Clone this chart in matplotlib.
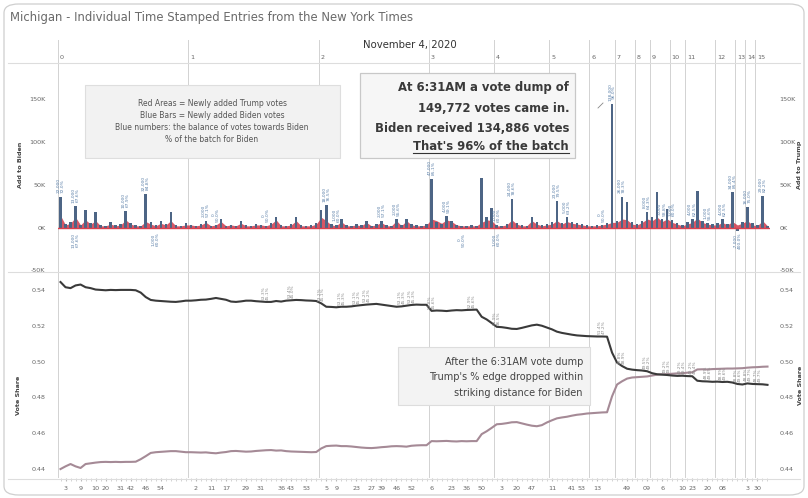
import numpy as np
import matplotlib
matplotlib.use("Agg")
import matplotlib.pyplot as plt
from matplotlib.patches import Rectangle, FancyBboxPatch
from matplotlib.lines import Line2D
import matplotlib.transforms as mtrans

plt.rcParams['font.family'] = ['DejaVu Sans']

# ---------------- data ----------------
hour_labels = ["0", "1", "2", "3", "4", "5", "6", "7", "8", "9", "10", "11", "12", "13", "14", "15"]

# newly added Biden votes (thousands), one list per hour
biden_add = [
    [36, 4, 6, 25, 3, 21, 5, 18, 3, 2, 6, 3, 4, 19, 5, 3, 2, 39, 6, 3, 8, 4, 18, 3, 2, 5],
    [3, 2, 4, 8, 2, 3, 10, 2, 3, 2, 8, 3, 2, 4, 3, 2, 5, 12, 3, 2, 4, 12, 3, 2, 3, 5],
    [21, 26, 4, 3, 10, 3, 2, 4, 3, 8, 2, 4, 8, 3, 2, 10, 3, 10, 4, 3, 2, 4],
    [57, 6, 4, 13, 8, 3, 2, 2, 3, 2, 58, 12, 23],
    [3, 2, 4, 33, 5, 3, 2, 12, 6, 3, 4],
    [6, 31, 5, 12, 7, 5, 4, 3],
    [2, 3, 3, 5, 144],
    [8, 36, 30, 6],
    [4, 8, 18],
    [12, 41, 10, 22],
    [9, 5, 3],
    [6, 10, 43, 8, 5, 4],
    [5, 10, 4, 41],
    [-4, 6],
    [24, 5],
    [3, 37, 2],
]
# newly added Trump votes (thousands)
trump_add = [
    [14, 3, 5, 12, 3, 9, 4, 8, 2, 2, 4, 2, 3, 9, 4, 2, 2, 7, 4, 2, 5, 3, 8, 2, 2, 3],
    [3, 2, 3, 6, 2, 3, 7, 2, 3, 2, 5, 2, 2, 3, 3, 2, 4, 9, 2, 2, 3, 8, 2, 2, 2, 4],
    [12, 8, 3, 2, 7, 2, 2, 3, 2, 6, 2, 3, 6, 2, 2, 8, 2, 8, 3, 2, 2, 3],
    [10, 8, 5, 9, 7, 3, 2, 2, 2, 2, 6, 9, 8],
    [2, 2, 3, 9, 4, 2, 2, 8, 4, 2, 3],
    [4, 8, 4, 7, 5, 4, 3, 2],
    [2, 2, 3, 4, 6],
    [6, 10, 9, 4],
    [3, 6, 10],
    [8, 12, 7, 10],
    [6, 4, 2],
    [4, 6, 11, 6, 4, 3],
    [3, 6, 3, 7],
    [3, 5],
    [8, 3],
    [2, 8, 2],
]
# cumulative vote share
trump_share = [
    [.5444, .5415, .5410, .5425, .5430, .5415, .5410, .5402, .5400, .5398, .5400, .5399, .5400,
     .5400, .5400, .5398, .5385, .5360, .5344, .5340, .5338, .5336, .5334, .5333, .5336, .5340],
    [.5340, .5342, .5345, .5346, .5350, .5355, .5350, .5345, .5335, .5333, .5336, .5340, .5340,
     .5337, .5335, .5333, .5333, .5338, .5335, .5340, .5342, .5344, .5343, .5341, .5340, .5338],
    [.5325, .5306, .5305, .5303, .5306, .5306, .5308, .5312, .5315, .5318, .5320, .5322, .5318,
     .5314, .5310, .5306, .5308, .5312, .5316, .5318, .5317, .5317],
    [.5283, .5285, .5284, .5282, .5285, .5287, .5286, .5288, .5289, .5290, .5250, .5235, .5215],
    [.5194, .5192, .5188, .5183, .5182, .5188, .5195, .5202, .5206, .5200, .5190],
    [.5180, .5167, .5160, .5155, .5150, .5146, .5144, .5142],
    [.5141, .5140, .5140, .5139, .5050],
    [.4994, .4975, .4960, .4955],
    [.4952, .4950, .4946],
    [.4935, .4929, .4927, .4925],
    [.4922, .4920, .4921],
    [.4919, .4918, .4893, .4890, .4889, .4887],
    [.4888, .4886, .4887, .4883],
    [.4875, .4872],
    [.4878, .4875],
    [.4874, .4873, .4870],
]
biden_share = [
    [.4400, .4415, .4428, .4415, .4406, .4428, .4432, .4436, .4439, .4440, .4439, .4440, .4439,
     .4440, .4440, .4441, .4455, .4472, .4490, .4494, .4496, .4498, .4500, .4500, .4497, .4494],
    [.4494, .4493, .4492, .4493, .4490, .4488, .4492, .4495, .4500, .4501, .4499, .4497, .4498,
     .4501, .4503, .4505, .4506, .4503, .4504, .4500, .4498, .4497, .4496, .4495, .4494, .4495],
    [.4515, .4528, .4530, .4531, .4528, .4528, .4526, .4523, .4520, .4518, .4517, .4519, .4522,
     .4524, .4527, .4528, .4527, .4525, .4530, .4532, .4533, .4533],
    [.4556, .4555, .4556, .4557, .4555, .4554, .4556, .4555, .4556, .4556, .4595, .4611, .4630],
    [.4650, .4652, .4656, .4661, .4662, .4655, .4648, .4642, .4639, .4645, .4660],
    [.4672, .4683, .4688, .4692, .4698, .4703, .4706, .4710],
    [.4712, .4714, .4716, .4717, .4806],
    [.4872, .4890, .4905, .4911],
    [.4913, .4915, .4917],
    [.4922, .4927, .4929, .4930],
    [.4932, .4934, .4935],
    [.4938, .4940, .4956, .4957, .4956, .4958],
    [.4959, .4960, .4961, .4961],
    [.4962, .4963],
    [.4966, .4968],
    [.4969, .4971, .4972],
]

minute_tick_idx = [1, 4, 7, 9, 12, 14, 17, 20, 27, 30, 33, 37, 40, 44, 46, 49,
                   53, 55, 59, 62, 64, 67, 70, 74, 78, 81, 84, 88, 91, 94,
                   98, 102, 104, 107, 113, 117, 120, 124, 126, 129, 132, 137, 139]
minute_tick_lbl = ["3", "9", "10", "20", "31", "42", "46", "54", "2", "11", "17", "29", "31", "36", "43", "53",
                   "5", "9", "23", "27", "39", "46", "52", "6", "23", "36", "50", "3", "20", "47",
                   "11", "41", "53", "13", "49", "09", "6", "10", "23", "20", "08", "3", "30"]

label_above_idx = [0, 3, 13, 17, 29, 31, 41, 53, 55, 64, 67, 74, 77, 87, 90, 99, 101, 108, 110,
                   112, 117, 120, 122, 126, 129, 132, 134, 137, 140]
label_below_idx = [3, 19, 80, 87, 135]
share_label_idx = [41, 46, 52, 56, 59, 61, 68, 70, 74, 82, 87, 108, 112, 117, 121, 124, 126, 129, 132, 135, 137, 139]

# ---------------- flatten ----------------
b_add = np.concatenate([np.array(h, float) for h in biden_add])
t_add = np.concatenate([np.array(h, float) for h in trump_add])
t_sh = np.concatenate([np.array(h, float) for h in trump_share])
b_sh = np.concatenate([np.array(h, float) for h in biden_share])
counts = [len(h) for h in biden_add]
starts = np.concatenate([[0], np.cumsum(counts)])
N = len(b_add)
x = np.arange(N)

W, H = 808, 498
fig = plt.figure(figsize=(W / 100, H / 100), dpi=100)

def fx(px):
    return px / W

def fy(py):
    return 1 - py / H

L, R = 58, 770
ax1 = fig.add_axes([fx(L), fy(272), fx(R - L), (272 - 65) / H])
ax2 = fig.add_axes([fx(L), fy(478), fx(R - L), (478 - 272) / H], sharex=ax1)

grey = '#666666'
for ax in (ax1, ax2):
    for s in ax.spines.values():
        s.set_visible(False)
    ax.set_xlim(-0.5, N - 0.5)
    ax.tick_params(axis='y', length=0, labelsize=4.6, labelcolor=grey, pad=9)

# upper panel
ax1.set_ylim(-52, 190)
yt = [-50, 0, 50, 100, 150]
ax1.set_yticks(yt)
ax1.set_yticklabels([f"{v}K" for v in yt])
ax1.fill_between(x, 0, t_add, color='#cf3a4b', alpha=0.85, lw=0, zorder=2)
ax1.bar(x, b_add, width=0.5, color='#4d6585', zorder=3)
ax1.axhline(0, color='#d9414f', lw=1.0, zorder=4)
sec1 = ax1.secondary_yaxis('right')
sec1.set_yticks(yt)
sec1.set_yticklabels([f"{v}K" for v in yt])
sec1.tick_params(length=0, labelsize=4.6, labelcolor=grey, pad=7)
for s in sec1.spines.values():
    s.set_visible(False)
ax1.tick_params(axis='x', which='both', length=0, labelbottom=False)

for i in label_above_idx:
    b, t = b_add[i], t_add[i]
    txt = f"{(b - t) * 1000:,.0f}\n{b / (b + t) * 100:.1f}%"
    ax1.text(i, max(b, t) + 4, txt, rotation=90, ha='center', va='bottom',
             fontsize=3.2, color='#5a7fa8', linespacing=1.0, zorder=5)
for i in label_below_idx:
    b, t = b_add[i], t_add[i]
    txt = f"{(b - t) * 1000:,.0f}\n{b / (b + t) * 100:.1f}%"
    ax1.text(i, -6, txt, rotation=90, ha='center', va='top',
             fontsize=3.2, color='#5a7fa8', linespacing=1.0, zorder=5)

# lower panel
ax2.set_ylim(0.435, 0.550)
st = [0.44, 0.46, 0.48, 0.50, 0.52, 0.54]
ax2.set_yticks(st)
ax2.set_yticklabels([f"{v:.2f}" for v in st])
ax2.plot(x, b_sh, color='#a58a96', lw=1.5, zorder=3)
ax2.plot(x, t_sh, color='#3a3a3a', lw=1.5, zorder=4)
sec2 = ax2.secondary_yaxis('right')
sec2.set_yticks(st)
sec2.set_yticklabels([f"{v:.2f}" for v in st])
sec2.tick_params(length=0, labelsize=4.6, labelcolor=grey, pad=7)
for s in sec2.spines.values():
    s.set_visible(False)
for i in share_label_idx:
    ax2.text(i, t_sh[i] + 0.0012, f"{t_sh[i] * 100:.1f}%\n{b_sh[i] * 100:.1f}%", rotation=90,
             ha='center', va='bottom', fontsize=3.1, color='#8a8a8a', linespacing=1.0, zorder=5)

ax2.set_xticks(minute_tick_idx)
ax2.set_xticklabels(minute_tick_lbl)
ax2.set_xticks(x, minor=True)
ax2.tick_params(axis='x', which='major', length=2.5, color='#bbbbbb', labelsize=4.6,
                labelcolor=grey, pad=3)
ax2.tick_params(axis='x', which='minor', length=2.5, color='#cccccc')

# hour separators
for k, s0 in enumerate(starts[:-1]):
    xv = s0 - 0.5
    for ax in (ax1, ax2):
        ax.axvline(xv, color='#d2d2d2', lw=0.7, zorder=1)
    ln = Line2D([xv, xv], [1.0, 1.12], transform=mtrans.blended_transform_factory(ax1.transData, ax1.transAxes),
                color='#d2d2d2', lw=0.7, clip_on=False)
    ax1.add_line(ln)
    ax1.text(xv + 0.4, 1.035, hour_labels[k], transform=mtrans.blended_transform_factory(ax1.transData, ax1.transAxes),
             fontsize=4.6, color=grey, ha='left', va='center')
ax1.axvline(N - 0.5, color='#d2d2d2', lw=0.7)
ax2.axvline(N - 0.5, color='#d2d2d2', lw=0.7)

# frame lines
for py in (63, 272, 479):
    fig.add_artist(Line2D([fx(8), fx(800)], [fy(py), fy(py)], color='#dddddd', lw=0.8))
fig.add_artist(FancyBboxPatch((fx(4), fy(495)), fx(800), (495 - 4) / H,
                              boxstyle="round,pad=0,rounding_size=0.018",
                              transform=fig.transFigure, fill=False, ec='#cfcfcf', lw=0.9))

# titles
fig.text(fx(10), fy(18), "Michigan - Individual Time Stamped Entries from the New York Times",
         fontsize=8.4, color='#6a6a6a', ha='left', va='center')
fig.text(fx(410), fy(45), "November 4, 2020", fontsize=7.3, color='#333333', ha='center', va='center')

fig.text(fx(20), fy(165), "Add to Biden", rotation=90, fontsize=4.6, color='#444444',
         ha='center', va='center', fontweight='bold')
fig.text(fx(18), fy(395), "Vote Share", rotation=90, fontsize=4.6, color='#444444',
         ha='center', va='center', fontweight='bold')
fig.text(fx(800), fy(165), "Add to Trump", rotation=90, fontsize=4.6, color='#444444',
         ha='center', va='center', fontweight='bold')
fig.text(fx(800), fy(385), "Vote Share", rotation=90, fontsize=4.6, color='#444444',
         ha='center', va='center', fontweight='bold')

# legend box
fig.add_artist(Rectangle((fx(85), fy(158)), fx(255), 73 / H, transform=fig.transFigure,
                         fc='#f2f2f2', ec='#dedede', lw=0.8))
legend_lines = ["Red Areas = Newly added Trump votes",
                "Blue Bars = Newly added Biden votes",
                "Blue numbers: the balance of votes towards Biden",
                "% of the batch for Biden"]
for k, t in enumerate(legend_lines):
    fig.text(fx(212), fy(104 + 12 * k), t, fontsize=5.5, color='#555555', ha='center', va='center')

# annotation box 1
fig.add_artist(Rectangle((fx(360), fy(158)), fx(215), 85 / H, transform=fig.transFigure,
                         fc='#f6f6f6', ec='#c8c8c8', lw=0.9))
ann_lines = ["At 6:31AM a vote dump of", "149,772 votes came in.",
             "Biden received 134,886 votes", "That's 96% of the batch"]
ann_texts = []
for k, t in enumerate(ann_lines):
    ann_texts.append(fig.text(fx(569), fy([88, 108, 128, 147][k]), t, fontsize=8.4, color='#3a3a3a',
                              ha='right', va='center', fontweight='bold'))
fig.add_artist(Line2D([fx(598), fx(603)], [fy(108), fy(103)], color='#888888', lw=0.6))

# annotation box 2
fig.add_artist(Rectangle((fx(398), fy(405)), fx(192), 58 / H, transform=fig.transFigure,
                         fc='#f3f3f3', ec='#dddddd', lw=0.8))
for k, t in enumerate(["After the 6:31AM vote dump", "Trump's % edge dropped within",
                       "striking distance for Biden"]):
    fig.text(fx(583), fy([362, 377, 393][k]), t, fontsize=7.0, color='#444444', ha='right', va='center')

# underline last annotation line
fig.canvas.draw()
bb = ann_texts[-1].get_window_extent().transformed(fig.transFigure.inverted())
fig.add_artist(Line2D([bb.x0, bb.x1], [bb.y0 + 0.002, bb.y0 + 0.002], color='#333333', lw=0.8))

fig.savefig("out.png", dpi=100)
